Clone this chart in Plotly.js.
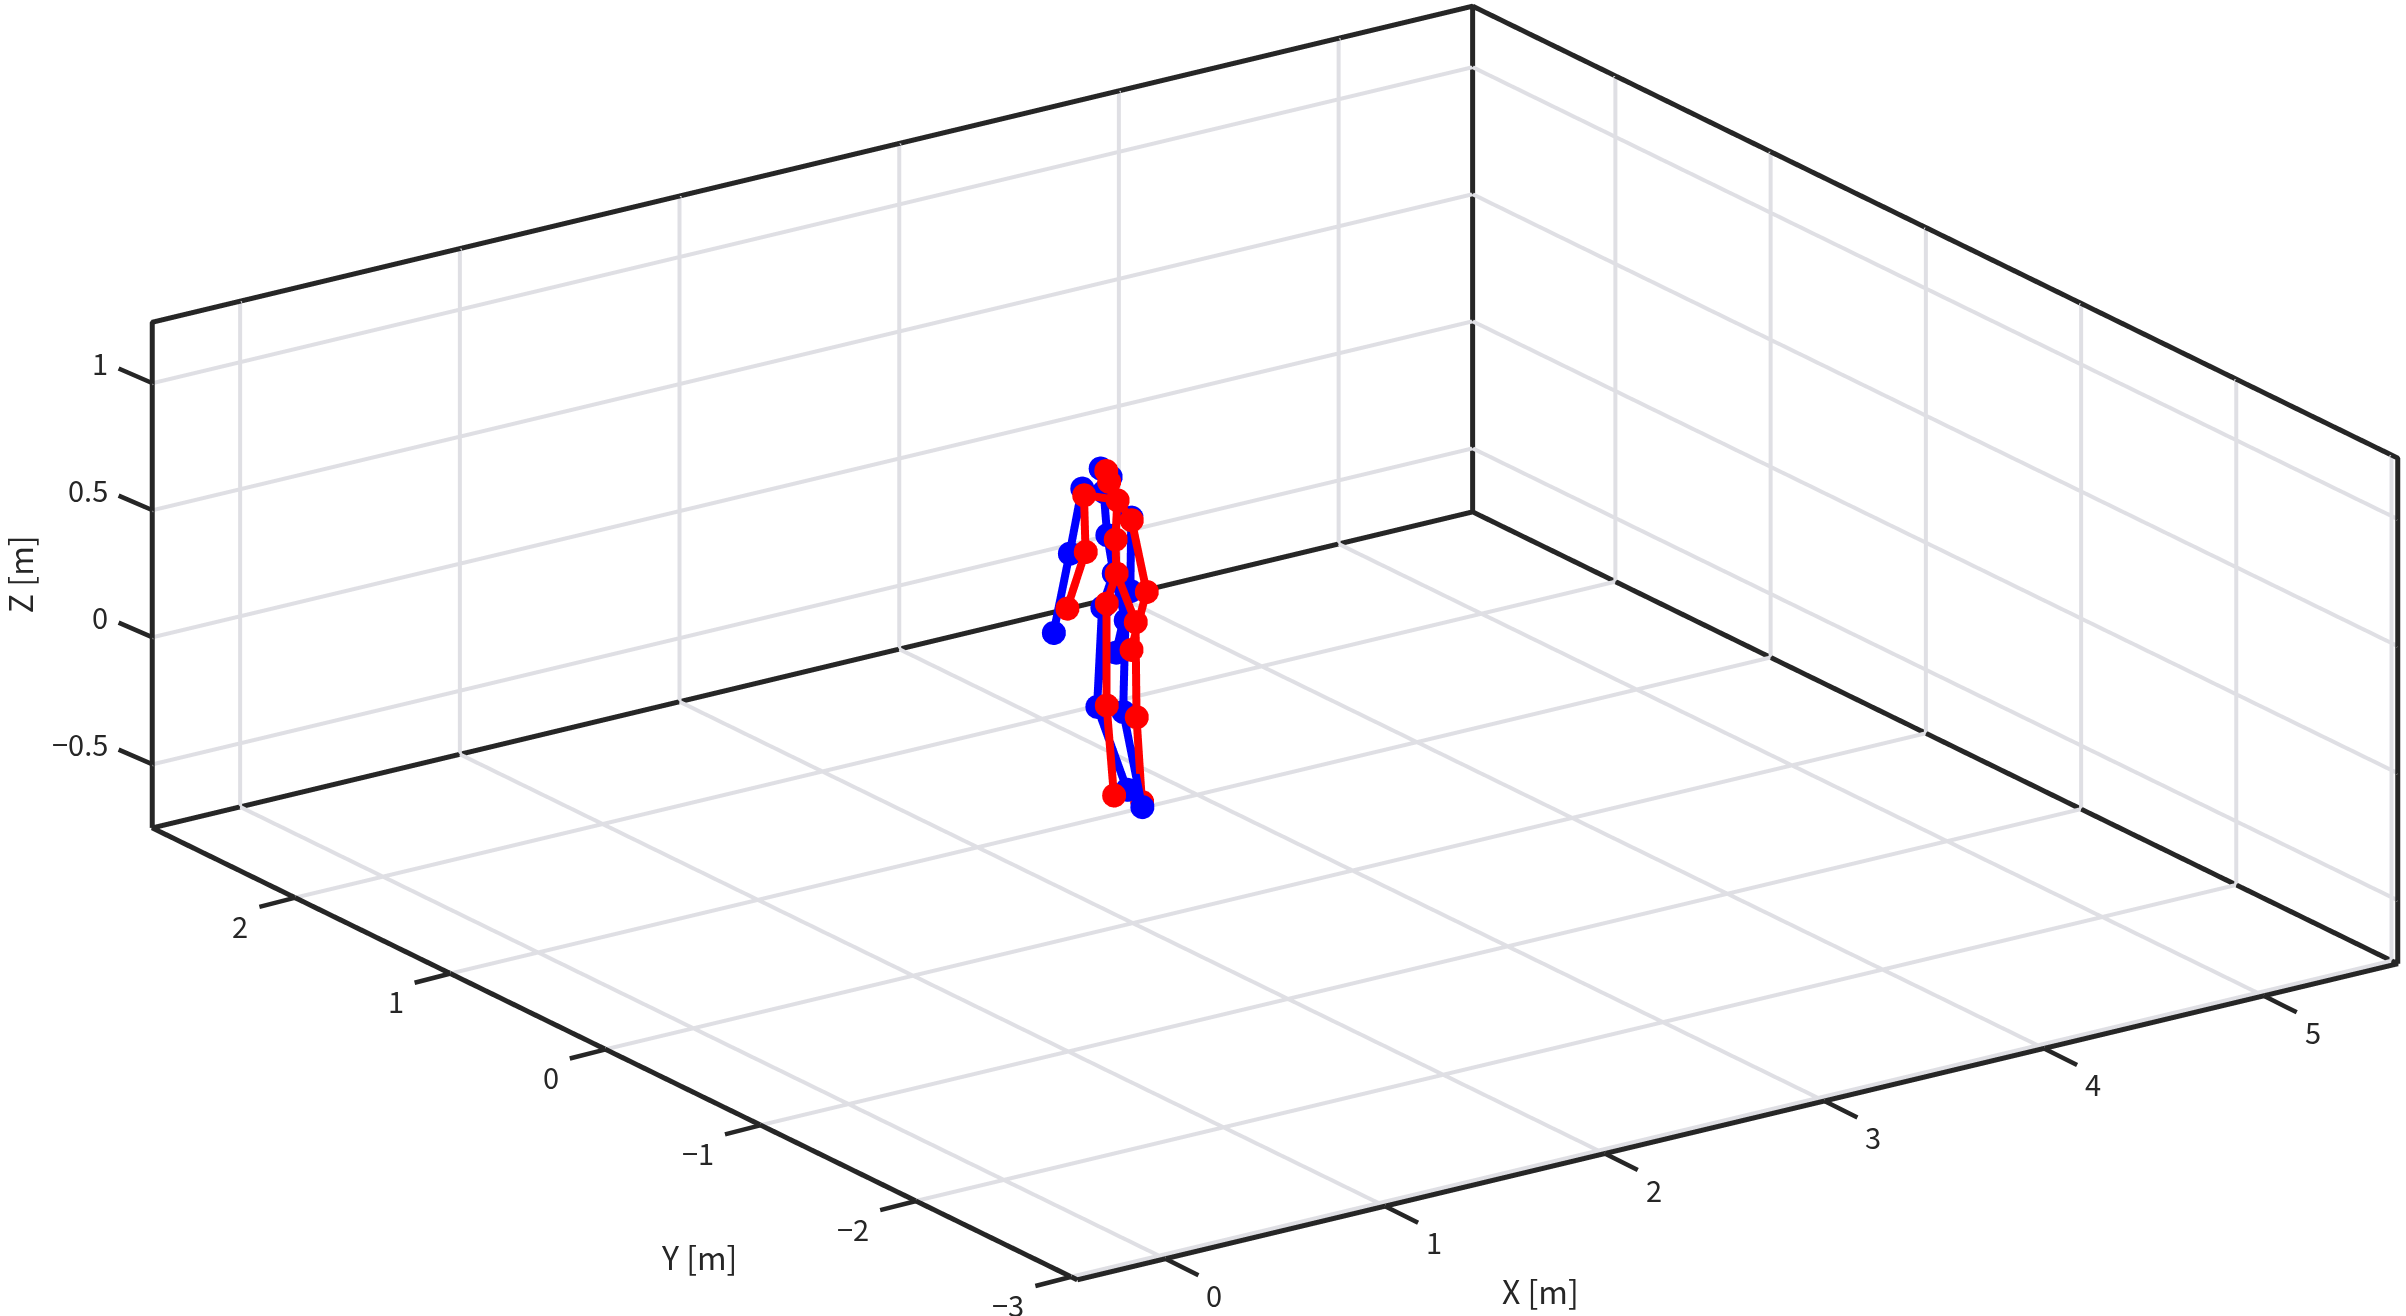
<!DOCTYPE html>
<html><head><meta charset="utf-8">
<script src="https://cdn.plot.ly/plotly-3.0.1.min.js"></script>
<style>html,body{margin:0;padding:0;background:#fff}#p{width:2406px;height:1316px}</style>
</head><body><div id="p"></div>
<script>
// Limits of the drawn box, and the slightly wider ranges of the hidden scene axes
const xRange=[-0.4,5.61], yRange=[-3.04,2.92], zRange=[-0.75,1.24];
const xAxisRange=[-0.5,5.71], yAxisRange=[-3.14,3.02], zAxisRange=[-0.85,1.34];
const xTicks=[0,1,2,3,4,5], yTicks=[-3,-2,-1,0,1,2], zTicks=[-0.5,0,0.5,1];
const xLabels=['0','1','2','3','4','5'], yLabels=['−3','−2','−1','0','1','2'], zLabels=['−0.5','0','0.5','1'];
// joints: head neck thorax spine hip lhip lknee lfoot rhip rknee rfoot lsh lelb lwri rsh relb rwri
const blueX=[2.463,2.493,2.473,2.483,2.503,2.468,2.453,2.544,2.539,2.532,2.590,2.407,2.369,2.320,2.557,2.554,2.510];
const blueY=[0.864,0.842,0.857,0.849,0.836,0.860,0.871,0.807,0.810,0.815,0.775,0.903,0.929,0.963,0.798,0.800,0.830];
const blueZ=[0.687,0.654,0.595,0.425,0.274,0.140,-0.251,-0.577,0.090,-0.271,-0.645,0.608,0.352,0.040,0.494,0.205,-0.037];
const redX=[2.398,2.407,2.433,2.427,2.430,2.400,2.400,2.422,2.488,2.491,2.630,2.331,2.336,2.280,2.476,2.522,2.475];
const redY=[0.736,0.730,0.712,0.716,0.714,0.735,0.735,0.719,0.673,0.671,0.833,0.783,0.780,0.819,0.682,0.650,0.682];
const redZ=[0.729,0.686,0.613,0.459,0.325,0.207,-0.194,-0.548,0.134,-0.240,-0.651,0.633,0.410,0.187,0.535,0.253,0.025];
const bones=[[4,3,2,1,0],[4,5,6,7],[4,8,9,10],[2,11,12,13],[2,14,15,16]];
const INK='#262626', GRID='#dfdfe4';

function skeleton(X,Y,Z,color,name){
  const x=[],y=[],z=[];
  bones.forEach(b=>{b.forEach(i=>{x.push(X[i]);y.push(Y[i]);z.push(Z[i]);});x.push(null);y.push(null);z.push(null);});
  return {type:'scatter3d',mode:'lines+markers',name,x,y,z,connectgaps:false,
    line:{color,width:16},marker:{color,size:14,line:{width:0}},hoverinfo:'skip',showlegend:false};
}
const [x0,x1]=xRange,[y0,y1]=yRange,[z0,z1]=zRange;
function segments(list,color,width,name){
  const x=[],y=[],z=[];
  list.forEach(p=>{p.forEach(q=>{x.push(q[0]);y.push(q[1]);z.push(q[2]);});x.push(null);y.push(null);z.push(null);});
  return {type:'scatter3d',mode:'lines',name,x,y,z,connectgaps:false,line:{color,width},hoverinfo:'skip',showlegend:false};
}
const boxSegs=[
 [[x0,y0,z0],[x0,y1,z0],[x1,y1,z0],[x1,y0,z0],[x0,y0,z0]],
 [[x0,y1,z0],[x0,y1,z1],[x1,y1,z1],[x1,y1,z0]],
 [[x1,y1,z1],[x1,y0,z1],[x1,y0,z0]]
];
const gridSegs=[];
xTicks.forEach(v=>gridSegs.push([[v,y0,z0],[v,y1,z0],[v,y1,z1]]));
yTicks.forEach(v=>gridSegs.push([[x0,v,z0],[x1,v,z0],[x1,v,z1]]));
zTicks.forEach(v=>gridSegs.push([[x0,y1,v],[x1,y1,v],[x1,y0,v]]));

const fam='"Noto Sans CJK JP","Noto Sans",sans-serif';
const labelFont={family:fam,size:29,color:INK}, titleFont={family:fam,size:32,color:INK};
function axis(range,ticks){return {range,tickmode:'array',tickvals:ticks,ticks:'',showticklabels:false,
  showgrid:false,zeroline:false,showline:false,showbackground:false,showspikes:false,title:{text:''},autorange:false};}
function tickMark(p,ax,ay){return {x:p[0],y:p[1],z:p[2],text:' ',showarrow:true,arrowhead:0,arrowwidth:4.5,arrowcolor:INK,ax,ay,standoff:0};}
function tickText(p,text,opts){return Object.assign({x:p[0],y:p[1],z:p[2],text,showarrow:false,font:labelFont},opts);}
const ann=[];
xTicks.forEach((v,i)=>{ann.push(tickMark([v,y0,z0],36,18));ann.push(tickText([v,y0,z0],xLabels[i],{xshift:49,yshift:-35}));});
yTicks.forEach((v,i)=>{ann.push(tickMark([x0,v,z0],-39,10));ann.push(tickText([x0,v,z0],yLabels[i],{xanchor:'right',xshift:-45,yshift:-27}));});
zTicks.forEach((v,i)=>{ann.push(tickMark([x0,y1,v],-37,-16));ann.push(tickText([x0,y1,v],zLabels[i],{xanchor:'right',xshift:-43,yshift:21}));});
ann.push({x:1.5,y:y0,z:z0,text:'X [m]',showarrow:false,font:titleFont,xshift:46,yshift:-110});
ann.push({x:x0,y:-1.5,z:z0,text:'Y [m]',showarrow:false,font:titleFont,xshift:-140,yshift:-93});
ann.push({x:x0,y:y1,z:0.2,text:'Z [m]',showarrow:false,textangle:-90,font:titleFont,xshift:-134,yshift:12});

const k=10;
const layout={width:2406,height:1316,margin:{l:0,r:0,t:0,b:0},paper_bgcolor:'#fff',showlegend:false,
 scene:{domain:{x:[0.06,1],y:[0.0228,1]},aspectmode:'manual',aspectratio:{x:2.590,y:2.593,z:0.921},
  xaxis:axis(xAxisRange,xTicks),yaxis:axis(yAxisRange,yTicks),zaxis:axis(zAxisRange,zTicks),
  camera:{projection:{type:'orthographic'},center:{x:0,y:0,z:0},up:{x:0,y:0,z:1},eye:{x:-0.539*k,y:-0.770*k,z:0.342*k}},
  annotations:ann}};
Plotly.newPlot('p',[segments(gridSegs,GRID,8,'grid'),segments(boxSegs,INK,10,'box'),skeleton(blueX,blueY,blueZ,'#0000ff','blue'),skeleton(redX,redY,redZ,'#ff0000','red')],layout,{displayModeBar:false});
</script></body></html>
